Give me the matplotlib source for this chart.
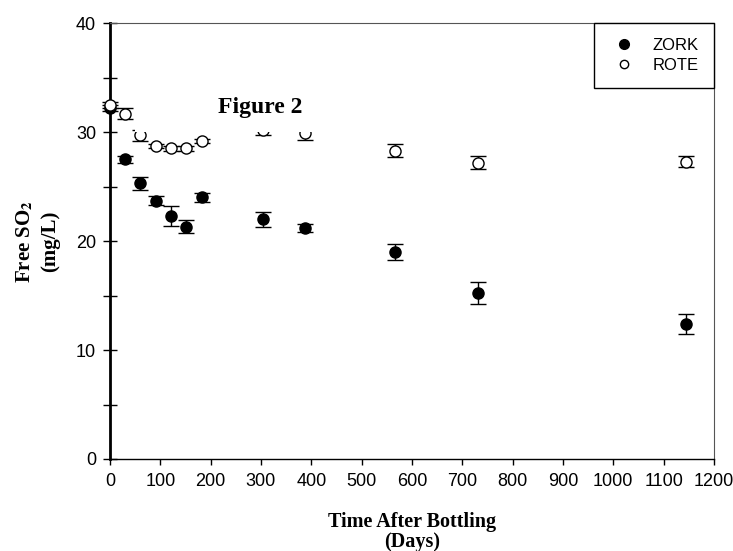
import numpy as np
import matplotlib.pyplot as plt
from matplotlib.patches import Rectangle
from matplotlib.lines import Line2D

plt.rcParams['mathtext.fontset'] = 'stix'

# 瓶詰め後の日数
days = [0, 30, 60, 91, 122, 152, 183, 305, 388, 566, 731, 1145]

# ZORK の遊離SO2 (mg/L) と誤差
zork = [32.2, 27.5, 25.3, 23.7, 22.3, 21.3, 24.0, 22.0, 21.2, 19.0, 15.2, 12.4]
zork_err = [0.3, 0.3, 0.6, 0.4, 0.9, 0.6, 0.4, 0.7, 0.4, 0.7, 1.0, 0.9]

# ROTE の遊離SO2 (mg/L) と誤差
rote = [32.5, 31.7, 29.7, 28.7, 28.5, 28.5, 29.2, 30.2, 29.9, 28.3, 27.2, 27.3]
rote_err = [0.3, 0.5, 0.5, 0.2, 0.2, 0.2, 0.2, 0.5, 0.6, 0.6, 0.6, 0.5]

serif = 'Liberation Serif'
sans = 'Liberation Sans'

fig = plt.figure(figsize=(7.33, 5.51), dpi=100)
ax = fig.add_axes([0.150, 0.167, 0.824, 0.791])

ax.errorbar(days, zork, yerr=zork_err, fmt='o', color='black', mfc='black',
            mec='black', markersize=8, capsize=6, elinewidth=1, capthick=1,
            zorder=3, clip_on=False)
ax.errorbar(days, rote, yerr=rote_err, fmt='o', color='black', mfc='white',
            mec='black', markersize=8, capsize=6, elinewidth=1, capthick=1,
            zorder=4, clip_on=False)

# タイトルの白い背景
ax.add_patch(Rectangle((0.041, 0.75), 0.32, 0.16, transform=ax.transAxes,
                       facecolor='white', edgecolor='none', zorder=5))
ax.text(0.248, 0.807, 'Figure 2', transform=ax.transAxes, ha='center',
        va='center', fontsize=17, fontweight='bold', family=serif, zorder=6)

ax.set_xlim(0, 1200)
ax.set_ylim(0, 40)
ax.set_xticks(np.arange(0, 1201, 100))
ax.set_yticks(np.arange(0, 41, 10))
ax.set_yticks(np.arange(5, 40, 10), minor=True)

for lab in ax.get_xticklabels() + ax.get_yticklabels():
    lab.set_family(sans)
    lab.set_fontsize(13)

ax.tick_params(axis='x', direction='out', length=4, width=1, pad=6)
ax.tick_params(axis='y', which='both', direction='inout', length=10, width=1, pad=5)

ax.spines['left'].set_linewidth(2)
ax.spines['bottom'].set_linewidth(1)
ax.spines['top'].set_color('#555555')
ax.spines['right'].set_color('#555555')

ax.set_xlabel('Time After Bottling\n(Days)', family=serif, fontweight='bold',
              fontsize=14.5, linespacing=1.0)
ax.xaxis.set_label_coords(0.5, -0.121)
ax.set_ylabel('Free SO$_\\mathbf{2}$\n(mg/L)', family=serif, fontweight='bold',
              fontsize=15, linespacing=1.3)
ax.yaxis.set_label_coords(-0.083, 0.5)

# 凡例はマーカーのみ
handles = [Line2D([], [], ls='none', marker='o', ms=7, mfc='black', mec='black'),
           Line2D([], [], ls='none', marker='o', ms=6, mfc='white', mec='black')]
leg = ax.legend(handles, ['ZORK', 'ROTE'], loc='upper right', frameon=True,
                fancybox=False, framealpha=1, edgecolor='black',
                borderaxespad=0, prop={'family': sans, 'size': 12},
                handlelength=1.8, handletextpad=0.8, borderpad=0.9,
                labelspacing=0.3)
leg.get_frame().set_linewidth(1)
leg.set_zorder(7)

fig.savefig('out.png', dpi=100)
